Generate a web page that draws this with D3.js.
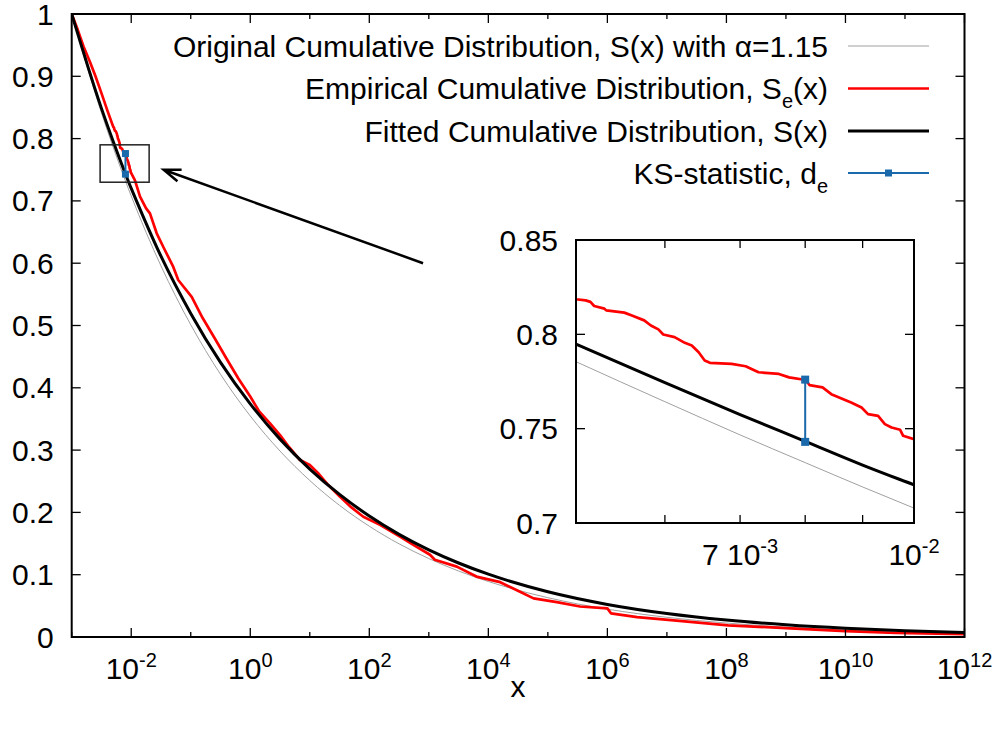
<!DOCTYPE html>
<html>
<head>
<meta charset="utf-8">
<script src="https://cdn.jsdelivr.net/npm/d3@7"></script>
<style>
    body { margin: 0; background: #fff; }
    text { font-family: "Liberation Sans", Arial, Helvetica, sans-serif; fill: #000; }
</style>
</head>
<body>
<div id="chart"></div>
<script>
/* ---- data ---- */

/* x positions shared by the two smooth curves */
var fitX = [0.001, 0.00316, 0.005, 0.006, 0.007, 0.008, 0.009, 0.01, 0.0316, 0.1, 0.316, 1, 3.16, 10, 31.6,
            100, 316, 1e3, 3.16e3, 1e4, 1e5, 1e6, 1e7, 1e8, 1e9, 1e10, 1e11, 1e12];

/* fitted cumulative distribution (black) */
var fittedS = [1, 0.8485, 0.7948, 0.7744, 0.7575, 0.7433, 0.7307, 0.7202, 0.6113, 0.5194, 0.4407, 0.3741, 0.3176, 0.2696, 0.2289,
               0.1942, 0.1648, 0.1399, 0.1188, 0.1008, 0.0726, 0.0523, 0.0377, 0.0272, 0.0196, 0.0141, 0.0102, 0.0073];

/* original cumulative distribution, alpha = 1.15 (grey) */
var originalS = [1, 0.8414, 0.7855, 0.7643, 0.7467, 0.7320, 0.7191, 0.7079, 0.5957, 0.5012, 0.4217, 0.3548, 0.2985, 0.2512, 0.2113,
                 0.1778, 0.1496, 0.1259, 0.1059, 0.0891, 0.0631, 0.0447, 0.0316, 0.0224, 0.0158, 0.0112, 0.0079, 0.0056];

/* empirical cumulative distribution (red) */
var empiricalX = [1e-3, 1.26e-3, 1.58e-3, 2.03e-3, 2.51e-3, 3.16e-3, 3.98e-3,
    0.00500, 0.00510, 0.00515, 0.00519, 0.00530, 0.00532, 0.00552, 0.00560, 0.00575, 0.00583,
    0.00592, 0.00598, 0.00612, 0.00625, 0.00634, 0.00643, 0.00651, 0.00658, 0.00688, 0.00708,
    0.00727, 0.00758, 0.00774, 0.00801, 0.00807, 0.00829, 0.00844, 0.00864, 0.00879, 0.00898,
    0.00910, 0.00929, 0.00942, 0.00955, 0.00972, 0.00978, 0.01000,
    0.01156, 0.01406, 0.01778, 0.02065, 0.02679, 0.03548, 0.05093, 0.06166, 0.1038, 0.1585,
    0.2512, 0.3981, 0.631, 1.0, 1.413, 2.148, 3.162, 4.467, 6.855, 10,
    14.13, 19.95, 31.62, 50.12, 79.43, 151.4, 327.3, 549.5, 1047, 1259,
    2951, 6310, 15850, 30200, 57540, 1.413e5, 3.467e5, 1e6, 1.148e6, 3.162e6,
    1.175e7, 1.072e8, 1.445e9, 1e10, 7.08e10, 1e12];
var empiricalS = [1.0, 0.975, 0.948, 0.923, 0.900, 0.873, 0.845,
    0.8186, 0.8180, 0.8172, 0.8150, 0.8136, 0.8127, 0.8115, 0.8101, 0.8074, 0.8047,
    0.8026, 0.7999, 0.7985, 0.7955, 0.7941, 0.7905, 0.7861, 0.7849, 0.7843, 0.7831,
    0.7799, 0.7790, 0.7772, 0.7758, 0.7731, 0.7719, 0.7683, 0.7657, 0.7639, 0.7612,
    0.7577, 0.7568, 0.7524, 0.7506, 0.7494, 0.7462, 0.7444,
    0.733, 0.707, 0.688, 0.680, 0.648, 0.624, 0.594, 0.573, 0.546, 0.512,
    0.480, 0.447, 0.415, 0.386, 0.362, 0.343, 0.324, 0.305, 0.284, 0.276,
    0.262, 0.245, 0.226, 0.208, 0.193, 0.180, 0.161, 0.148, 0.132, 0.124,
    0.113, 0.097, 0.088, 0.075, 0.062, 0.056, 0.049, 0.046, 0.038, 0.032,
    0.027, 0.0188, 0.0135, 0.0095, 0.0064, 0.0045];

/* KS statistic: biggest gap between empirical and fitted */
var ksX = [0.008, 0.008];
var ksS = [0.776, 0.743];

/* ticks */
var yTicks = [0, 0.1, 0.2, 0.3, 0.4, 0.5, 0.6, 0.7, 0.8, 0.9, 1];
var yTickLabels = ["0", "0.1", "0.2", "0.3", "0.4", "0.5", "0.6", "0.7", "0.8", "0.9", "1"];
var xTickPowers = [-3, -2, -1, 0, 1, 2, 3, 4, 5, 6, 7, 8, 9, 10, 11, 12];
var xLabelPowers = [-2, 0, 2, 4, 6, 8, 10, 12];

var insetYTicks = [0.7, 0.75, 0.8, 0.85];
var insetYLabels = ["0.7", "0.75", "0.8", "0.85"];
var insetXTicks = [0.006, 0.007, 0.008, 0.009];
var insetXLabelAt = [0.007, 0.01];
var insetXLabelBase = ["7 10", "10"];
var insetXLabelExp = ["-3", "-2"];

/* annotation: zoom box and arrow, in data units */
var boxX = [0.003, 0.02];
var boxS = [0.73, 0.79];
var arrowX = [800, 0.035];
var arrowS = [0.6, 0.75];

/* legend */
var legendMain = ["Original Cumulative Distribution, S(x) with \u03b1=1.15",
                  "Empirical Cumulative Distribution, S",
                  "Fitted Cumulative Distribution, S(x)",
                  "KS-statistic, d"];
var legendSub = ["", "e", "", "e"];
var legendTail = ["", "(x)", "", ""];
var legendColor = ["#a0a0a0", "#ff0000", "#000000", "#1a69aa"];
var legendWidth = [1, 2.7, 3, 2];

/* ---- layout ---- */
var width = 1000, height = 729;
var plot = {left: 71.7, right: 964.5, top: 14, bottom: 637};
var ins = {left: 576, right: 914, top: 240, bottom: 523};
var fontSize = 30, supSize = 20;

var svg = d3.select("#chart").append("svg")
    .attr("width", width)
    .attr("height", height);

var x = d3.scaleLog().domain([1e-3, 1e12]).range([plot.left, plot.right]);
var y = d3.scaleLinear().domain([0, 1]).range([plot.bottom, plot.top]);

var xi = d3.scaleLog().domain([0.005, 0.01]).range([ins.left, ins.right]);
var yi = d3.scaleLinear().domain([0.7, 0.85]).range([ins.bottom, ins.top]);

var fitted = fitX.map(function (v, i) { return [v, fittedS[i]]; });
var original = fitX.map(function (v, i) { return [v, originalS[i]]; });
var empirical = empiricalX.map(function (v, i) { return [v, empiricalS[i]]; });
var ks = ksX.map(function (v, i) { return [v, ksS[i]]; });

var defs = svg.append("defs");
defs.append("clipPath").attr("id", "clipMain").append("rect")
    .attr("x", plot.left).attr("y", plot.top)
    .attr("width", plot.right - plot.left).attr("height", plot.bottom - plot.top);
defs.append("clipPath").attr("id", "clipInset").append("rect")
    .attr("x", ins.left).attr("y", ins.top)
    .attr("width", ins.right - ins.left).attr("height", ins.bottom - ins.top);

/* ---- draws the curves for one pair of scales ---- */
function drawCurves (g, sx, sy, ksSquare)
{
    var line = d3.line()
        .x(function (d) { return sx(d[0]); })
        .y(function (d) { return sy(d[1]); });

    g.append("path").datum(original)
        .attr("d", line.curve(d3.curveMonotoneX))
        .attr("fill", "none").attr("stroke", legendColor[0]).attr("stroke-width", 1);

    g.append("path").datum(empirical)
        .attr("d", line.curve(d3.curveLinear))
        .attr("fill", "none").attr("stroke", legendColor[1]).attr("stroke-width", 2.7)
        .attr("stroke-linejoin", "round");

    g.append("path").datum(fitted)
        .attr("d", line.curve(d3.curveMonotoneX))
        .attr("fill", "none").attr("stroke", legendColor[2]).attr("stroke-width", 3);

    g.append("path").datum(ks)
        .attr("d", line.curve(d3.curveLinear))
        .attr("fill", "none").attr("stroke", legendColor[3]).attr("stroke-width", 2);

    g.selectAll("rect.ks").data(ks).enter().append("rect")
        .attr("class", "ks")
        .attr("x", function (d) { return sx(d[0]) - ksSquare / 2; })
        .attr("y", function (d) { return sy(d[1]) - ksSquare / 2; })
        .attr("width", ksSquare).attr("height", ksSquare)
        .attr("fill", legendColor[3]);
}

/* ---- main plot ---- */
var main = svg.append("g").attr("clip-path", "url(#clipMain)");
drawCurves(main, x, y, 7);

/* ticks on all four sides */
var ticks = svg.append("g").attr("stroke", "#000").attr("stroke-width", 1.3);
ticks.selectAll("line.yl").data(yTicks).enter().append("line")
    .attr("x1", plot.left).attr("x2", plot.left + 9)
    .attr("y1", function (d) { return y(d); }).attr("y2", function (d) { return y(d); });
ticks.selectAll("line.yr").data(yTicks).enter().append("line")
    .attr("x1", plot.right).attr("x2", plot.right - 9)
    .attr("y1", function (d) { return y(d); }).attr("y2", function (d) { return y(d); });
ticks.selectAll("line.xb").data(xTickPowers).enter().append("line")
    .attr("x1", function (p) { return x(Math.pow(10, p)); })
    .attr("x2", function (p) { return x(Math.pow(10, p)); })
    .attr("y1", plot.bottom)
    .attr("y2", function (p) { return plot.bottom - (p % 2 === 0 ? 9 : 5); });
ticks.selectAll("line.xt").data(xTickPowers).enter().append("line")
    .attr("x1", function (p) { return x(Math.pow(10, p)); })
    .attr("x2", function (p) { return x(Math.pow(10, p)); })
    .attr("y1", plot.top)
    .attr("y2", function (p) { return plot.top + (p % 2 === 0 ? 9 : 5); });

svg.append("rect")
    .attr("x", plot.left).attr("y", plot.top)
    .attr("width", plot.right - plot.left).attr("height", plot.bottom - plot.top)
    .attr("fill", "none").attr("stroke", "#000").attr("stroke-width", 2);

/* tick labels */
svg.selectAll("text.ylab").data(yTicks).enter().append("text")
    .attr("class", "ylab")
    .attr("x", plot.left - 18)
    .attr("y", function (d) { return y(d) + 10.5; })
    .attr("text-anchor", "end")
    .style("font-size", fontSize + "px")
    .text(function (d, i) { return yTickLabels[i]; });

var xl = svg.selectAll("text.xlab").data(xLabelPowers).enter().append("text")
    .attr("class", "xlab")
    .attr("x", function (p) { return x(Math.pow(10, p)); })
    .attr("y", 679)
    .attr("text-anchor", "middle")
    .style("font-size", fontSize + "px");
xl.append("tspan").text("10");
xl.append("tspan").attr("dy", -12).style("font-size", supSize + "px")
    .text(function (p) { return String(p); });

svg.append("text")
    .attr("x", (plot.left + plot.right) / 2)
    .attr("y", 697)
    .attr("text-anchor", "middle")
    .style("font-size", fontSize + "px")
    .text("x");

/* zoom box and arrow */
svg.append("rect")
    .attr("x", x(boxX[0])).attr("y", y(boxS[1]))
    .attr("width", x(boxX[1]) - x(boxX[0]))
    .attr("height", y(boxS[0]) - y(boxS[1]))
    .attr("fill", "none").attr("stroke", "#222").attr("stroke-width", 1.5);

var ax0 = x(arrowX[0]), ay0 = y(arrowS[0]), ax1 = x(arrowX[1]), ay1 = y(arrowS[1]);
var ang = Math.atan2(ay0 - ay1, ax0 - ax1), headLen = 18, headAng = 20 * Math.PI / 180;
svg.append("path")
    .attr("d", "M" + ax0 + "," + ay0 + "L" + ax1 + "," + ay1 +
        "M" + (ax1 + headLen * Math.cos(ang - headAng)) + "," + (ay1 + headLen * Math.sin(ang - headAng)) +
        "L" + ax1 + "," + ay1 +
        "L" + (ax1 + headLen * Math.cos(ang + headAng)) + "," + (ay1 + headLen * Math.sin(ang + headAng)))
    .attr("fill", "none").attr("stroke", "#000").attr("stroke-width", 2.5);

/* ---- legend ---- */
var legendRowY = [46, 88.5, 131, 173];
var lg = svg.append("g");
legendMain.forEach(function (label, i) {
    var t = lg.append("text")
        .attr("x", 828).attr("y", legendRowY[i] + 10.5)
        .attr("text-anchor", "end")
        .style("font-size", fontSize + "px");
    t.append("tspan").text(label);
    if (legendSub[i]) {
        t.append("tspan").attr("dy", 9).style("font-size", supSize + "px").text(legendSub[i]);
        if (legendTail[i]) t.append("tspan").attr("dy", -9).text(legendTail[i]);
    }
    lg.append("line")
        .attr("x1", 848).attr("x2", 929)
        .attr("y1", legendRowY[i]).attr("y2", legendRowY[i])
        .attr("stroke", legendColor[i]).attr("stroke-width", legendWidth[i]);
});
lg.append("rect")
    .attr("x", 888.5 - 3.5).attr("y", legendRowY[3] - 3.5)
    .attr("width", 7).attr("height", 7)
    .attr("fill", legendColor[3]);

/* ---- inset ---- */
svg.append("rect")
    .attr("x", ins.left).attr("y", ins.top)
    .attr("width", ins.right - ins.left).attr("height", ins.bottom - ins.top)
    .attr("fill", "#fff");

var inset = svg.append("g").attr("clip-path", "url(#clipInset)");
drawCurves(inset, xi, yi, 8);

var iticks = svg.append("g").attr("stroke", "#000").attr("stroke-width", 1.3);
iticks.selectAll("line.l").data(insetYTicks).enter().append("line")
    .attr("x1", ins.left).attr("x2", ins.left + 9)
    .attr("y1", function (d) { return yi(d); }).attr("y2", function (d) { return yi(d); });
iticks.selectAll("line.r").data(insetYTicks).enter().append("line")
    .attr("x1", ins.right).attr("x2", ins.right - 9)
    .attr("y1", function (d) { return yi(d); }).attr("y2", function (d) { return yi(d); });
iticks.selectAll("line.b").data(insetXTicks).enter().append("line")
    .attr("x1", function (d) { return xi(d); }).attr("x2", function (d) { return xi(d); })
    .attr("y1", ins.bottom).attr("y2", ins.bottom - 8);
iticks.selectAll("line.t").data(insetXTicks).enter().append("line")
    .attr("x1", function (d) { return xi(d); }).attr("x2", function (d) { return xi(d); })
    .attr("y1", ins.top).attr("y2", ins.top + 8);

svg.append("rect")
    .attr("x", ins.left).attr("y", ins.top)
    .attr("width", ins.right - ins.left).attr("height", ins.bottom - ins.top)
    .attr("fill", "none").attr("stroke", "#000").attr("stroke-width", 2);

svg.selectAll("text.iylab").data(insetYTicks).enter().append("text")
    .attr("class", "iylab")
    .attr("x", ins.left - 18)
    .attr("y", function (d) { return yi(d) + 10.5; })
    .attr("text-anchor", "end")
    .style("font-size", fontSize + "px")
    .text(function (d, i) { return insetYLabels[i]; });

var ixl = svg.selectAll("text.ixlab").data(insetXLabelAt).enter().append("text")
    .attr("class", "ixlab")
    .attr("x", function (d) { return xi(d); })
    .attr("y", 565)
    .attr("text-anchor", "middle")
    .style("font-size", fontSize + "px");
ixl.append("tspan").text(function (d, i) { return insetXLabelBase[i]; });
ixl.append("tspan").attr("dy", -12).style("font-size", supSize + "px")
    .text(function (d, i) { return insetXLabelExp[i]; });
</script>
</body>
</html>
